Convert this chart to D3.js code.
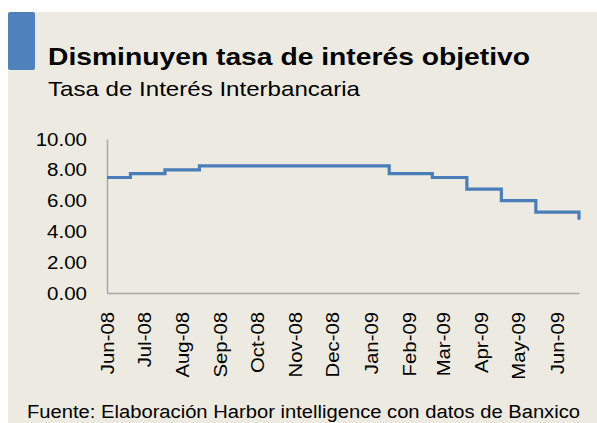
<!DOCTYPE html>
<html>
<head>
<meta charset="utf-8">
<script src="https://cdn.jsdelivr.net/npm/d3@7"></script>
<style>
  body { margin: 0; background: #fff; }
  svg text { font-family: "Liberation Sans", Arial, sans-serif; fill: #000; }
</style>
</head>
<body>
<svg id="chart" width="597" height="423"></svg>
<script>
// fechas de cambio de la tasa objetivo y su valor
const fechas = ["2008-06-01", "2008-06-20", "2008-07-18", "2008-08-15", "2009-01-16",
                "2009-02-20", "2009-03-20", "2009-04-17", "2009-05-15", "2009-06-19"];
const tasas = [7.50, 7.75, 8.00, 8.25, 7.75, 7.50, 6.75, 6.00, 5.25, 4.75];
const yTicks = [0, 2, 4, 6, 8, 10];

const titulo = "Disminuyen tasa de interés objetivo";
const subtitulo = "Tasa de Interés Interbancaria";
const fuente = "Fuente: Elaboración Harbor intelligence con datos de Banxico";

const parse = d3.timeParse("%Y-%m-%d");
const data = fechas.map((f, i) => ({ date: parse(f), value: tasas[i] }));

const svg = d3.select("#chart");
const stretch = 1.13; // el texto original sale un poco ensanchado

// fondo
svg.append("rect")
    .attr("x", 8).attr("y", 12)
    .attr("width", 589).attr("height", 411)
    .attr("fill", "#EDEBE1");

svg.append("rect")
    .attr("x", 8).attr("y", 12)
    .attr("width", 27).attr("height", 58)
    .attr("rx", 2)
    .attr("fill", "#4F81BD");

svg.append("text")
    .attr("x", 48).attr("y", 65)
    .attr("textLength", 482)
    .attr("lengthAdjust", "spacingAndGlyphs")
    .style("font-size", "24px")
    .style("font-weight", "bold")
    .text(titulo);

svg.append("text")
    .attr("x", 48).attr("y", 96)
    .attr("textLength", 312)
    .attr("lengthAdjust", "spacingAndGlyphs")
    .style("font-size", "21px")
    .text(subtitulo);

const mLeft = 107, mRight = 579, mTop = 139, mBottom = 293;

const x = d3.scaleTime()
    .domain(d3.extent(data, d => d.date))
    .range([mLeft, mRight]);

const y = d3.scaleLinear()
    .domain([0, 10])
    .range([mBottom, mTop]);

// eje y
const gy = svg.append("g")
    .attr("transform", `translate(${mLeft},0)`)
    .call(d3.axisLeft(y).tickValues(yTicks).tickFormat(d3.format(".2f")).tickSize(0));
gy.select(".domain").attr("stroke", "#A6A6A6").attr("stroke-width", 1.5);
gy.selectAll("text")
    .style("font-size", "19px")
    .attr("fill", "#000")
    .attr("x", -20 / 1.08)
    .attr("transform", "scale(1.08,1)");

// eje x
const gx = svg.append("g")
    .attr("transform", `translate(0,${mBottom})`)
    .call(d3.axisBottom(x).ticks(d3.timeMonth.every(1)).tickFormat(d3.timeFormat("%b-%y")).tickSize(0));
gx.select(".domain").attr("stroke", "#A6A6A6").attr("stroke-width", 1.5);
gx.selectAll("text")
    .style("font-size", "18px")
    .attr("fill", "#000")
    .attr("text-anchor", "end")
    .attr("transform", `rotate(-90) scale(${stretch},1)`)
    .attr("x", -19 / stretch)
    .attr("y", 0)
    .attr("dy", "0.35em");

// linea
const line = d3.line()
    .x(d => x(d.date))
    .y(d => y(d.value))
    .curve(d3.curveStepAfter);

svg.append("path")
    .datum(data)
    .attr("d", line)
    .attr("fill", "none")
    .attr("stroke", "#4A7EBB")
    .attr("stroke-width", 3.2);

svg.append("text")
    .attr("x", 27).attr("y", 418)
    .attr("textLength", 553)
    .attr("lengthAdjust", "spacingAndGlyphs")
    .style("font-size", "18px")
    .text(fuente);
</script>
</body>
</html>
